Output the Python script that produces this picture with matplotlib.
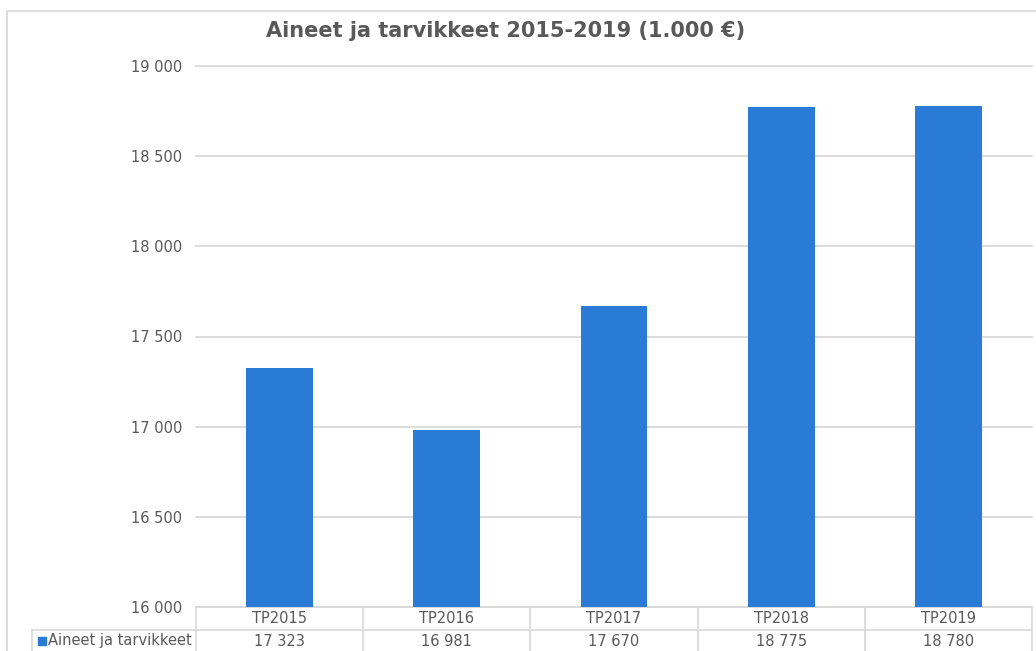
import matplotlib.pyplot as plt
from matplotlib.patches import Rectangle
from matplotlib.lines import Line2D
from matplotlib.transforms import blended_transform_factory

plt.rcParams['font.family'] = ['DejaVu Sans']

# Data
categories = ['TP2015', 'TP2016', 'TP2017', 'TP2018', 'TP2019']
values = [17323, 16981, 17670, 18775, 18780]
series_name = 'Aineet ja tarvikkeet'
title = 'Aineet ja tarvikkeet 2015-2019 (1.000 €)'

BAR_COLOR = '#2A7BD5'
TEXT_COLOR = '#595959'
GRID_COLOR = '#D9D9D9'


def fmt(v):
    return f"{v:,.0f}".replace(',', ' ')


fig = plt.figure(figsize=(10.36, 6.51), dpi=100)
W, H = 1036, 651

# outer chart border (cropped at right/bottom)
fig.patches.append(Rectangle((7 / W, -0.1), 1.2, 1 - 11 / H + 0.1,
                             transform=fig.transFigure, fill=False,
                             edgecolor=GRID_COLOR, linewidth=1.2))

ax = fig.add_axes([196 / W, 1 - 607 / H, (1032 - 196) / W, (607 - 66) / H])
x = list(range(len(categories)))
ax.bar(x, values, width=0.4, color=BAR_COLOR, zorder=3)
ax.set_xlim(-0.5, len(categories) - 0.5)
ax.set_ylim(16000, 19000)
ax.set_yticks(range(16000, 19001, 500))
ax.set_yticklabels([fmt(v) for v in range(16000, 19001, 500)])
ax.set_xticks([])
ax.grid(axis='y', color=GRID_COLOR, linewidth=1.3, zorder=0)
for gl in ax.get_ygridlines():
    gl.set_clip_on(False)
for s in ['top', 'right', 'left']:
    ax.spines[s].set_visible(False)
ax.spines['bottom'].set_color(GRID_COLOR)
ax.spines['bottom'].set_linewidth(1.3)
ax.tick_params(axis='y', length=0, pad=10, labelsize=10.5, labelcolor=TEXT_COLOR)

fig.text(506 / W, 1 - 31 / H, title, ha='center', va='center',
         fontsize=15, fontweight='bold', color=TEXT_COLOR)

# data table below the axis
row_h = 23 / 541
tr = blended_transform_factory(ax.transData, ax.transAxes)
lkw = dict(color=GRID_COLOR, linewidth=1.2, clip_on=False)
for b in [i - 0.5 for i in range(len(categories) + 1)]:
    ax.add_line(Line2D([b, b], [0, -3 * row_h], transform=tr, **lkw))
ax.add_line(Line2D([-0.5, len(categories) - 0.5], [-row_h, -row_h], transform=tr, **lkw))
left = (32 - 196) / (1032 - 196)
ax.add_line(Line2D([left, 0], [-row_h, -row_h], transform=ax.transAxes, **lkw))
ax.add_line(Line2D([left, left], [-row_h, -3 * row_h], transform=ax.transAxes, **lkw))

for i, (c, v) in enumerate(zip(categories, values)):
    ax.text(i, -0.5 * row_h, c, transform=tr, ha='center', va='center',
            fontsize=10.5, color=TEXT_COLOR)
    ax.text(i, -1.5 * row_h, fmt(v), transform=tr, ha='center', va='center',
            fontsize=10.5, color=TEXT_COLOR)

ax.add_patch(Rectangle((38 / W, 1 - 645 / H), 8 / W, 8 / H, transform=fig.transFigure,
                       color=BAR_COLOR, clip_on=False))
fig.text(48 / W, 1 - 641 / H, series_name, ha='left', va='center',
         fontsize=10.5, color=TEXT_COLOR)

fig.savefig('out.png', dpi=100)
